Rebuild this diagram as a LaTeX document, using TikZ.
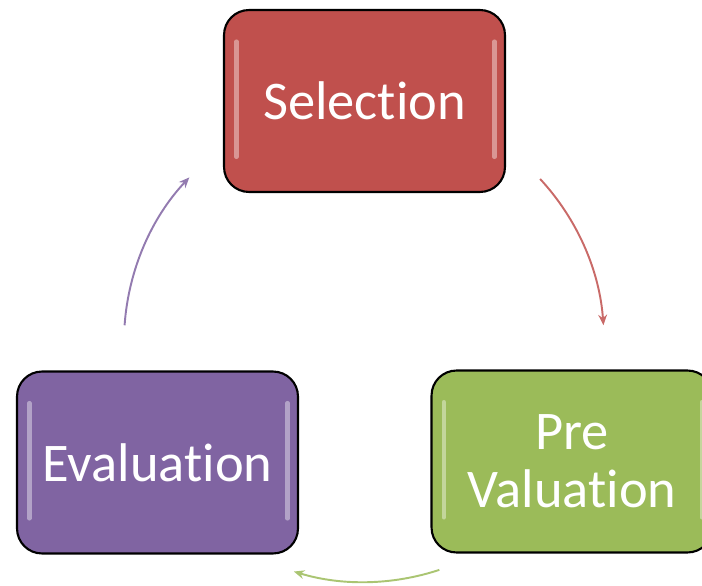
\documentclass[tikz,border=0pt]{standalone}
\usepackage{fontspec}
\setmainfont{Carlito}[Ligatures=NoCommon]
\usetikzlibrary{arrows.meta}
\definecolor{selred}{HTML}{C0504D}
\definecolor{pregreen}{HTML}{9BBB59}
\definecolor{evalpurple}{HTML}{8064A2}

\tikzset{
  stagebox/.style={draw=black, line width=1.2pt, rounded corners=0.5cm,
    minimum width=5.62cm, minimum height=3.64cm, text=white, align=center,
    font=\fontsize{31}{33}\selectfont,
    path picture={
      \draw[white, opacity=0.4, line width=2.5pt, line cap=round]
        ([xshift=7pt,yshift=-18pt]path picture bounding box.north west) --
        ([xshift=7pt,yshift=20pt]path picture bounding box.south west)
        ([xshift=-6pt,yshift=-18pt]path picture bounding box.north east) --
        ([xshift=-6pt,yshift=20pt]path picture bounding box.south east);
    }},
  cyclearrow/.style={line width=1.1pt, -{Stealth[length=6pt,width=5pt]}}
}

\begin{document}
\begin{tikzpicture}[x=0.02cm,y=0.02cm]
    \useasboundingbox (0,0) rectangle (702,585);
    \coordinate (hub) at (364,243);
    \node[stagebox, fill=selred] (sel) at (364.5,484) {Selection};
    \node[stagebox, fill=pregreen] (pre) at (572,123.5) {Pre\\Valuation};
    \node[stagebox, fill=evalpurple] (eval) at (157.5,122.5) {Evaluation};
    \draw[cyclearrow, selred!85] ([shift={(42.8:240)}]hub) arc[start angle=42.8, end angle=4, radius=240];
    \draw[cyclearrow, pregreen!85] ([shift={(-71.7:240)}]hub) arc[start angle=-71.7, end angle=-107, radius=240];
    \draw[cyclearrow, evalpurple!85] ([shift={(176:240)}]hub) arc[start angle=176, end angle=136.7, radius=240];
\end{tikzpicture}
\end{document}
